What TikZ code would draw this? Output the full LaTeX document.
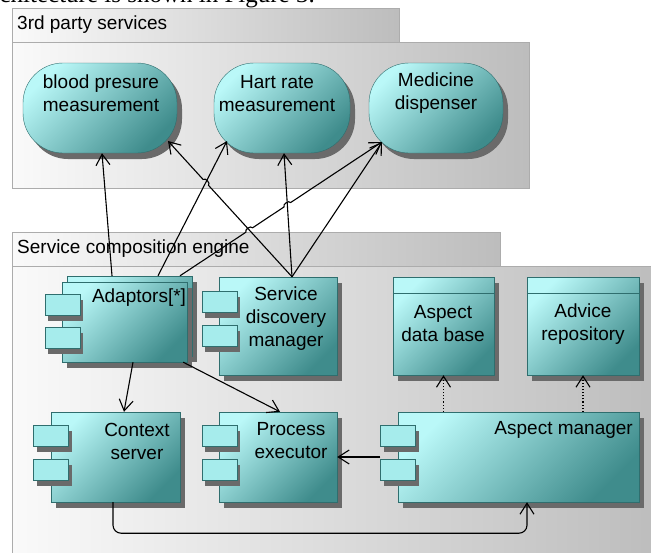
\documentclass[tikz,border=0pt]{standalone}
\usepackage{fontspec}
\setmainfont{Liberation Sans}
\newfontfamily\capserif{Liberation Serif}
\usetikzlibrary{arrows.meta,calc}

\definecolor{tealdark}{HTML}{2F6E6E}
\definecolor{teallight}{HTML}{BAF8F8}
\definecolor{tealmid}{HTML}{3F8C8C}
\definecolor{portfill}{HTML}{A6ECEC}
\definecolor{shadowgray}{HTML}{6A6A6A}

\tikzstyle{pkg}=[draw=gray!65,left color=gray!4,right color=gray!52]
\tikzstyle{shadowed}=[preaction={fill=shadowgray,transform canvas={shift={(5pt,-6pt)}}}]
\tikzstyle{service}=[shadowed,draw=tealdark,rounded corners=40pt,top color=teallight,bottom color=tealmid,shading angle=45]
\tikzstyle{comp}=[shadowed,draw=tealdark,top color=teallight,bottom color=tealmid,shading angle=45]
\tikzstyle{port}=[preaction={fill=shadowgray,transform canvas={shift={(3pt,-5pt)}}},
  draw=tealdark,fill=portfill,minimum width=35pt,minimum height=21pt,inner sep=0pt]
\tikzstyle{lbl}=[align=center,inner sep=0pt]
\tikzstyle{dep}=[-{Straight Barb[length=11pt,width=14pt]},line width=1.1pt]
\tikzstyle{usage}=[dep,dotted]

\begin{document}
\begin{tikzpicture}[x=1pt,y=-1pt,font=\fontsize{19}{23}\selectfont]
\useasboundingbox (0,0) rectangle (651,552);
% caption line cut by the top edge
\node[anchor=base east,inner sep=0pt,font=\capserif\fontsize{25}{28}\selectfont] (cap) at (315,2.5) {architecture is shown in Figure 3.};

% packages
\draw[pkg] (12,8) rectangle (399,42);
\draw[pkg] (12,42) rectangle (529,188);
\node[anchor=west,inner sep=0pt] (tps) at (17,25) {3rd party services};
\draw[pkg] (12,232) rectangle (500,266);
\draw[pkg] (12,266) rectangle (660,560);
\node[anchor=west,inner sep=0pt] (sce) at (17,249) {Service composition engine};

% 3rd party services
\node[service,minimum width=154pt,minimum height=90pt] (bp) at (100,108) {};
\node[service,minimum width=136pt,minimum height=90pt] (hr) at (282,108) {};
\node[service,minimum width=134pt,minimum height=90pt] (md) at (436,108) {};
\node[lbl] (bp-t) at (101,93.5) {blood presure\\measurement};
\node[lbl] (hr-t) at (277,93.5) {Hart rate\\measurement};
\node[lbl] (md-t) at (436,93.5) {Medicine\\dispenser};

% components
\node[comp,minimum width=125pt,minimum height=80pt] (adp-b) at (129.5,316) {};
\node[comp,minimum width=125pt,minimum height=80pt] (adp) at (124.5,322) {};
\node[comp,minimum width=118pt,minimum height=98pt] (sdm) at (278,326) {};
\node[comp,minimum width=129pt,minimum height=90pt] (ctx) at (115.5,457) {};
\node[comp,minimum width=118pt,minimum height=90pt] (pex) at (278,457) {};
\node[comp,minimum width=241pt,minimum height=90pt] (asm) at (518.5,457) {};
\foreach \n/\y in {1/305,2/338} \node[port] (adp-p\n) at (62.5,\y) {};
\foreach \n/\y in {1/302,2/336} \node[port] (sdm-p\n) at (219.5,\y) {};
\foreach \n/\y in {1/436,2/470} {
  \node[port] (ctx-p\n) at (51,\y) {};
  \node[port] (pex-p\n) at (219.5,\y) {};
  \node[port] (asm-p\n) at (398,\y) {};
}
\node[lbl] (adp-t) at (139,298) {Adaptors[*]};
\node[lbl] (sdm-t) at (286,318.5) {Service\\discovery\\manager};
\node[lbl] (ctx-t) at (137,441) {Context\\server};
\node[lbl] (pex-t) at (291,441) {Process\\executor};
\node[lbl,anchor=east] (asm-t) at (633,430) {Aspect manager};

% data stores
\node[comp,minimum width=101pt,minimum height=98pt] (adb) at (443.5,326) {};
\node[comp,minimum width=112pt,minimum height=98pt] (adv) at (583,326) {};
\draw[tealdark] ([shift={(0,16)}]adb.north west) -- ([shift={(0,16)}]adb.north east);
\draw[tealdark] ([shift={(0,16)}]adv.north west) -- ([shift={(0,16)}]adv.north east);
\node[lbl] (adb-t) at (443,324) {Aspect\\data base};
\node[lbl] (adv-t) at (583,324) {Advice\\repository};

% connector ends
\coordinate (a1) at ([shift={(-17.5,0)}]adp-b.north);
\coordinate (a2) at ([shift={(28.5,0)}]adp-b.north);
\coordinate (a3) at ([shift={(50.5,0)}]adp-b.north);
\coordinate (s0) at ([shift={(14,0)}]sdm.north);
\coordinate (b1) at ([shift={(2,0)}]bp.south);
\coordinate (b2) at ([shift={(68,33)}]bp.center);
\coordinate (h1) at ([shift={(-55,33)}]hr.center);
\coordinate (h2) at ([shift={(2,0)}]hr.south);
\coordinate (m1) at ([shift={(-54,34)}]md.center);
\coordinate (x1) at (intersection of s0--b2 and a2--h1);
\coordinate (x2) at (intersection of a3--m1 and s0--b2);
\coordinate (x3) at (intersection of a3--m1 and s0--h2);

% connectors
\draw[dep] (a1) -- (b1);
\draw[dep] (a2) -- (h1);
\draw[dep] (a3) -- ($(x2)!4pt!(a3)$) to[bend left=90] ($(x2)!4pt!(m1)$)
  -- ($(x3)!4pt!(a3)$) to[bend left=90] ($(x3)!4pt!(m1)$) -- (m1);
\draw[dep] (s0) -- ($(x1)!4pt!(s0)$) to[bend right=90] ($(x1)!4pt!(b2)$) -- (b2);
\draw[dep] (s0) -- (h2);
\draw[dep] (s0) -- (m1);
\draw[dep] ([shift={(8.5,0)}]adp.south) -- ([shift={(8.5,0)}]ctx.north);
\draw[dep] ([shift={(-4,0)}]adp.south east) -- ([shift={(2,0)}]pex.north);
\draw[dep] (asm.west -| asm-p1.west) -- (pex.east);
\draw[usage] (asm.north -| adb.south) -- (adb.south);
\draw[usage] (asm.north -| adv.south) -- (adv.south);
\draw[dep,rounded corners=8pt] ([shift={(-2.5,0)}]ctx.south) -- ++(0,31) -| ([shift={(8.5,0)}]asm.south);
\end{tikzpicture}
\end{document}
